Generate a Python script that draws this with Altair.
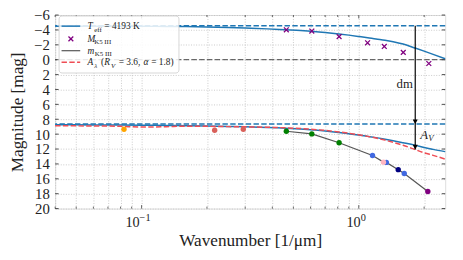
import altair as alt
import pandas as pd

# ---------------- data ----------------
k_model = [0.04, 0.06, 0.08, 0.1, 0.13, 0.16, 0.2, 0.25, 0.3, 0.38, 0.46, 0.54, 0.62,
           0.7, 0.81, 0.9, 1.0, 1.1, 1.2, 1.32, 1.44, 1.6, 1.81, 2.0, 2.2, 2.5]
M_model = [-4.50, -4.50, -4.49, -4.48, -4.47, -4.45, -4.40, -4.33, -4.25, -4.14, -4.02, -3.92, -3.80,
           -3.66, -3.46, -3.30, -3.12, -2.95, -2.78, -2.62, -2.42, -2.10, -1.58, -1.15, -0.72, -0.12]
m_model = [8.75, 8.76, 8.78, 8.80, 8.83, 8.86, 8.90, 8.96, 9.02, 9.10, 9.20, 9.32, 9.45,
           9.58, 9.78, 9.95, 10.12, 10.30, 10.47, 10.68, 10.88, 11.15, 11.48, 11.80, 12.05, 12.35]
m_ext = [8.88, 8.90, 8.95, 9.05, 9.00, 8.93, 8.95, 8.99, 9.02, 9.08, 9.15, 9.25, 9.37,
         9.50, 9.70, 9.88, 10.08, 10.30, 10.52, 10.80, 11.10, 11.50, 12.05, 12.50, 12.85, 13.35]

M_k = [0.464, 0.608, 0.812, 1.098, 1.311, 1.603, 2.102]
M_mag = [-4.02, -3.85, -3.10, -2.27, -1.78, -0.98, 0.51]

obs_k = [0.083, 0.217, 0.294, 0.464, 0.608, 0.812, 1.157, 1.34, 1.30, 1.52, 1.62, 2.08]
obs_mag = [9.35, 9.48, 9.35, 9.61, 9.97, 11.16, 12.87, 13.80, 13.76, 14.77, 15.29, 17.70]
obs_color = ["#ffa500", "#d9605a", "#d9605a", "#008000", "#008000", "#008000",
             "#4169e1", "#4169e1", "#ffb6c1", "#000080", "#4169e1", "#800080"]

line_k = [0.464, 0.608, 0.812, 1.157, 1.30, 1.34, 1.52, 1.62, 2.08]
line_mag = [9.61, 9.97, 11.16, 12.87, 13.76, 13.80, 14.77, 15.29, 17.70]

abs_level = -4.55
app_level = 8.65
zero_level = 0.0
k_V = 1.82
AV_end = 12.05

x_grid = [0.04, 0.05, 0.06, 0.07, 0.08, 0.09, 0.1, 0.2, 0.3, 0.4, 0.5, 0.6, 0.7, 0.8, 0.9, 1.0, 2.0]
x_major = [0.1, 1.0]
y_ticks = list(range(-6, 21, 2))

# ---------------- styles ----------------
W, H = 397, 197
FONT = "Liberation Serif"
C0 = "#1f77b4"
RED = "#ef4d55"
GRAY = "#555555"
PURPLE = "#800080"
DASH = [5.5, 2.4]

xs = alt.Scale(type="log", domain=[0.04, 2.5], nice=False)
ys = alt.Scale(domain=[-6, 20], reverse=True, nice=False, zero=False)

x_axis = alt.Axis(values=x_grid, labels=False, ticks=False, domain=False, grid=True,
                  gridColor="#bdbdbd", gridDash=[1, 1.6], gridWidth=0.8,
                  title="Wavenumber [1/μm]", titleFont=FONT, titleFontSize=17.5,
                  titleFontWeight="normal", titleColor="#222", titleY=38,
                  titleBaseline="alphabetic")
y_axis = alt.Axis(values=y_ticks, ticks=False, domain=False, grid=True,
                  gridColor="#bdbdbd", gridDash=[1, 1.6], gridWidth=0.8,
                  labelFont=FONT, labelFontSize=15, labelColor="#222", labelPadding=6,
                  labelExpr="datum.value < 0 ? '−' + abs(datum.value) : '' + datum.value",
                  title="Magnitude [mag]", titleFont=FONT, titleFontSize=17.5,
                  titleFontWeight="normal", titleColor="#222", titleX=-33, titleY=H / 2,
                  titleAngle=270, titleBaseline="alphabetic")


def X(f):
    return alt.X(f, type="quantitative", scale=xs, axis=x_axis)


def Y(f):
    return alt.Y(f, type="quantitative", scale=ys, axis=y_axis)


one = pd.DataFrame({"a": [0]})
df_model = pd.DataFrame({"k": k_model, "M": M_model, "m": m_model, "mext": m_ext})
df_M = pd.DataFrame({"k": M_k, "mag": M_mag})
df_obs = pd.DataFrame({"k": obs_k, "mag": obs_mag, "c": obs_color})
df_line = pd.DataFrame({"k": line_k, "mag": line_mag})
df_blue_h = pd.DataFrame({"v": [abs_level, app_level]})
df_zero = pd.DataFrame({"v": [zero_level]})

layers = []

# inward ticks on all four sides
df_yt = pd.DataFrame({"v": y_ticks})
df_xmaj = pd.DataFrame({"k": x_major})
df_xmin = pd.DataFrame({"k": [v for v in x_grid if v not in x_major]})
for x0, x1 in [(0, 3.5), (W - 3.5, W)]:
    layers.append(alt.Chart(df_yt).mark_rule(color="#222", strokeWidth=0.8).encode(
        y=Y("v"), x=alt.value(x0), x2=alt.value(x1)))
for d, L in [(df_xmaj, 3.5), (df_xmin, 2)]:
    layers.append(alt.Chart(d).mark_rule(color="#222", strokeWidth=0.7).encode(
        x=X("k"), y=alt.value(H - L), y2=alt.value(H)))
    layers.append(alt.Chart(d).mark_rule(color="#222", strokeWidth=0.7).encode(
        x=X("k"), y=alt.value(0), y2=alt.value(L)))

# horizontal reference lines
layers.append(alt.Chart(df_zero).mark_rule(color="#444", strokeWidth=1, strokeDash=DASH).encode(y=Y("v")))
layers.append(alt.Chart(df_blue_h).mark_rule(color=C0, strokeWidth=1.5, strokeDash=DASH).encode(y=Y("v")))

# model curves
layers.append(alt.Chart(df_model).mark_line(color=C0, strokeWidth=1.5, interpolate="monotone").encode(x=X("k"), y=Y("M")))
layers.append(alt.Chart(df_model).mark_line(color=C0, strokeWidth=1.5, interpolate="monotone").encode(x=X("k"), y=Y("m")))
layers.append(alt.Chart(df_model).mark_line(color=RED, strokeWidth=1.5, strokeDash=DASH, interpolate="monotone").encode(x=X("k"), y=Y("mext")))

# observed line and points
layers.append(alt.Chart(df_line).mark_line(color=GRAY, strokeWidth=1.2).encode(x=X("k"), y=Y("mag")))
layers.append(alt.Chart(df_obs).mark_point(filled=True, size=30, opacity=1).encode(
    x=X("k"), y=Y("mag"), color=alt.Color("c:N", scale=None)))

# absolute magnitudes (x markers)
XSHAPE = "M-1,-1L1,1M-1,1L1,-1"
layers.append(alt.Chart(df_M).mark_point(shape=XSHAPE, filled=False, size=24, strokeWidth=1.3,
                                         color=PURPLE, opacity=1).encode(x=X("k"), y=Y("mag")))

# arrows
df_arr = pd.DataFrame({"k": [k_V, k_V], "y1": [abs_level, app_level], "y2": [app_level, AV_end]})
layers.append(alt.Chart(df_arr).mark_rule(color="black", strokeWidth=1.2).encode(
    x=X("k"), y=Y("y1"), y2=alt.Y2("y2")))
TRI = "M-0.55,-1L0.55,-1L0,0Z"
layers.append(alt.Chart(df_arr).mark_point(shape=TRI, filled=True, size=90, color="black", opacity=1).encode(
    x=X("k"), y=Y("y2")))

# annotations
df_dm = pd.DataFrame({"k": [1.627], "mag": [3.3], "t": ["dm"]})
layers.append(alt.Chart(df_dm).mark_text(font=FONT, fontSize=13, color="#222", baseline="middle").encode(
    x=X("k"), y=Y("mag"), text="t:N"))
df_av = pd.DataFrame({"k": [2.0], "mag": [10.1], "t": ["A"]})
layers.append(alt.Chart(df_av).mark_text(font=FONT, fontSize=13, fontStyle="italic", color="#222",
                                         baseline="middle").encode(x=X("k"), y=Y("mag"), text="t:N"))
df_av2 = pd.DataFrame({"k": [2.0], "mag": [10.1], "t": ["V"]})
layers.append(alt.Chart(df_av2).mark_text(font=FONT, fontSize=9, fontStyle="italic", color="#222",
                                          baseline="middle", dx=7, dy=3).encode(x=X("k"), y=Y("mag"), text="t:N"))

# x tick labels 10^-1 and 10^0
layers.append(alt.Chart(pd.DataFrame({"k": [0.1], "t": ["10"]})).mark_text(
    font=FONT, fontSize=14.5, color="#222", align="right", baseline="alphabetic", dx=-2).encode(
    x=X("k"), y=alt.value(H + 19), text="t:N"))
layers.append(alt.Chart(pd.DataFrame({"k": [0.1], "t": ["−1"]})).mark_text(
    font=FONT, fontSize=10.5, color="#222", align="left", baseline="alphabetic", dx=-2).encode(
    x=X("k"), y=alt.value(H + 13), text="t:N"))
layers.append(alt.Chart(pd.DataFrame({"k": [1.0], "t": ["10"]})).mark_text(
    font=FONT, fontSize=14.5, color="#222", align="right", baseline="alphabetic", dx=2).encode(
    x=X("k"), y=alt.value(H + 19), text="t:N"))
layers.append(alt.Chart(pd.DataFrame({"k": [1.0], "t": ["0"]})).mark_text(
    font=FONT, fontSize=10.5, color="#222", align="left", baseline="alphabetic", dx=2).encode(
    x=X("k"), y=alt.value(H + 13), text="t:N"))

# ---------------- legend (manual, to allow subscripts) ----------------
layers.append(alt.Chart(one).mark_rect(fill="white", fillOpacity=0.85, stroke="#cccccc", strokeWidth=0.8,
                                       cornerRadius=3).encode(
    x=alt.value(4), x2=alt.value(126), y=alt.value(1), y2=alt.value(59)))
LX0, LX1 = 6.5, 25.5
row_y = [11.3, 24.3, 36.3, 48.0]
layers.append(alt.Chart(one).mark_rule(color=C0, strokeWidth=1.5).encode(
    x=alt.value(LX0), x2=alt.value(LX1), y=alt.value(row_y[0])))
layers.append(alt.Chart(one).mark_point(shape=XSHAPE, filled=False, size=24, strokeWidth=1.3,
                                        color=PURPLE, opacity=1).encode(
    x=alt.value((LX0 + LX1) / 2), y=alt.value(row_y[1])))
layers.append(alt.Chart(one).mark_rule(color=GRAY, strokeWidth=1.2).encode(
    x=alt.value(LX0), x2=alt.value(LX1), y=alt.value(row_y[2])))
layers.append(alt.Chart(one).mark_rule(color=RED, strokeWidth=1.5, strokeDash=DASH).encode(
    x=alt.value(LX0), x2=alt.value(LX1), y=alt.value(row_y[3])))

legend_rows = [
    [("T", "italic", False), ("eff", "normal", True), (" = 4193 K", "normal", False)],
    [("M", "italic", False), ("K5 III", "normal", True)],
    [("m", "italic", False), ("K5 III", "normal", True)],
    [("A", "italic", False), ("λ", "italic", True), (" (", "normal", False), ("R", "italic", False),
     ("V", "italic", True), (" = 3.6, ", "normal", False), ("α", "italic", False),
     (" = 1.8)", "normal", False)],
]


def char_w(ch):
    if ch.isdigit():
        return 0.5
    if ch == " ":
        return 0.28
    if ch == "=":
        return 0.564
    if ch in "()":
        return 0.333
    if ch in ".,":
        return 0.25
    if ch in "λα":
        return 0.52
    if ch.isupper():
        return 0.68
    if ch in "fil":
        return 0.28
    if ch == "m":
        return 0.75
    return 0.46


FS, FSS = 9.5, 7
for ry, pieces in zip(row_y, legend_rows):
    cx = 33.0
    for txt, style, sub in pieces:
        fs = FSS if sub else FS
        by = ry + (5.5 if sub else 3.3)
        lead = len(txt) - len(txt.lstrip(" "))
        trail = len(txt) - len(txt.rstrip(" "))
        core = txt.strip(" ")
        cx += lead * char_w(" ") * fs
        layers.append(alt.Chart(one).mark_text(
            text=core, font=FONT, fontSize=fs, fontStyle=style, color="#222",
            align="left", baseline="alphabetic").encode(x=alt.value(cx), y=alt.value(by)))
        cx += sum(char_w(c) for c in core) * fs + trail * char_w(" ") * fs + (0.5 if sub else 0.3)

chart = alt.layer(*layers).properties(
    width=W, height=H,
    autosize=alt.AutoSizeParams(type="none"),
    padding={"left": 48, "top": 5, "right": 10, "bottom": 40},
).configure_view(stroke="#222", strokeWidth=1).configure(background="white")

chart.save("out.html", embed_options={"renderer": "svg", "actions": False})
